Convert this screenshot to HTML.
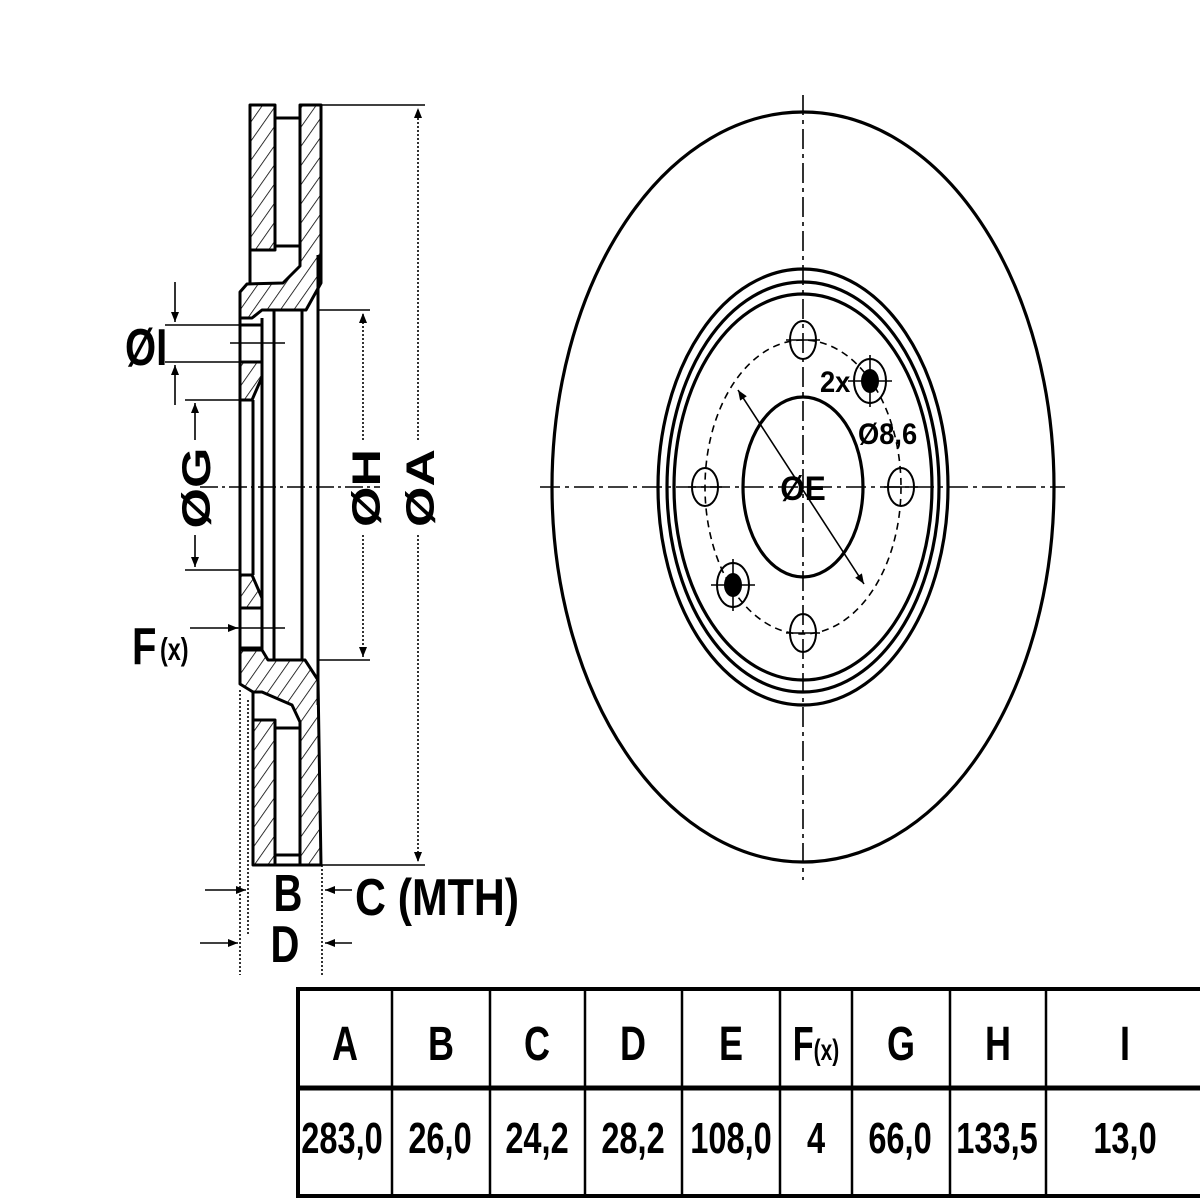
<!DOCTYPE html>
<html><head><meta charset="utf-8"><style>
html,body{margin:0;padding:0;background:#fff}
svg{display:block}
text{font-family:"Liberation Sans",Arial,sans-serif;font-weight:bold;fill:#000}
</style></head><body>
<svg width="1200" height="1200" viewBox="0 0 1200 1200" xmlns="http://www.w3.org/2000/svg">
<defs>
<pattern id="h" patternUnits="userSpaceOnUse" width="11" height="11" patternTransform="rotate(35)">
<line x1="0" y1="0" x2="0" y2="11" stroke="#000" stroke-width="1.6"/>
</pattern>
<marker id="ar2" viewBox="0 0 10 10" refX="10" refY="5" markerWidth="16" markerHeight="10" orient="auto-start-reverse" markerUnits="userSpaceOnUse">
<path d="M0,1 L10,5 L0,9 z" fill="#000"/>
</marker>
</defs>

<g stroke="#000" stroke-width="3" fill="none" stroke-linejoin="round">
<rect x="250" y="105" width="25" height="145" fill="url(#h)"/>
<polygon points="300,105 321,105 321,283 306,310 262,310 252,318 240,318 240,292 247,284 283,283 300,266" fill="url(#h)"/>
<line x1="275" y1="118" x2="300" y2="118"/>
<line x1="275" y1="246" x2="300" y2="246"/>
<line x1="250" y1="250" x2="250" y2="284"/>
<polygon points="240,362 262,362 262,377 252,400 240,400" fill="url(#h)"/>
<polygon points="240,575 252,575 262,598 262,608 240,608" fill="url(#h)"/>
<line x1="240" y1="318" x2="240" y2="680"/>
<line x1="240" y1="325" x2="262" y2="325"/>
<line x1="240" y1="362" x2="262" y2="362"/>
<line x1="240" y1="608" x2="262" y2="608"/>
<line x1="240" y1="648" x2="262" y2="648"/>
<line x1="253" y1="400" x2="253" y2="575"/>
<line x1="262" y1="318" x2="262" y2="650"/>
<line x1="274" y1="310" x2="274" y2="660"/>
<line x1="302" y1="310" x2="302" y2="660"/>
<line x1="318" y1="255" x2="318" y2="705"/>
<polygon points="240,650 262,650 268,660 305,660 318,680 321,865 300,865 300,722 292,705 262,692 253,692 240,684" fill="url(#h)"/>
<rect x="253" y="720" width="22" height="145" fill="url(#h)"/>
<line x1="253" y1="692" x2="253" y2="720"/>
<line x1="275" y1="728" x2="300" y2="728"/>
<line x1="275" y1="855" x2="300" y2="855"/>
<line x1="253" y1="865" x2="321" y2="865"/>
</g>

<g stroke="#000" stroke-width="1.6" fill="none">
<line x1="322" y1="105" x2="425" y2="105"/>
<line x1="322" y1="865" x2="425" y2="865"/>
<line x1="418" y1="440" x2="418" y2="108" stroke-dasharray="2,2" marker-end="url(#ar2)"/>
<line x1="418" y1="535" x2="418" y2="862" stroke-dasharray="2,2" marker-end="url(#ar2)"/>
<line x1="318" y1="310" x2="370" y2="310"/>
<line x1="318" y1="660" x2="370" y2="660"/>
<line x1="363" y1="440" x2="363" y2="313" stroke-dasharray="2,2" marker-end="url(#ar2)"/>
<line x1="363" y1="535" x2="363" y2="657" stroke-dasharray="2,2" marker-end="url(#ar2)"/>
<line x1="185" y1="400" x2="240" y2="400"/>
<line x1="185" y1="570" x2="240" y2="570"/>
<line x1="195" y1="440" x2="195" y2="403" marker-end="url(#ar2)"/>
<line x1="195" y1="535" x2="195" y2="567" marker-end="url(#ar2)"/>
<line x1="165" y1="325" x2="240" y2="325"/>
<line x1="165" y1="362" x2="240" y2="362"/>
<line x1="175" y1="282" x2="175" y2="322" marker-end="url(#ar2)"/>
<line x1="175" y1="405" x2="175" y2="365" marker-end="url(#ar2)"/>
<line x1="230" y1="343" x2="285" y2="343"/>
<line x1="230" y1="628" x2="285" y2="628"/>
<line x1="190" y1="628" x2="238" y2="628" marker-end="url(#ar2)"/>
<line x1="200" y1="487" x2="380" y2="487" stroke-dasharray="18,4,3,4"/>
<line x1="240" y1="690" x2="240" y2="975" stroke-dasharray="2,2"/>
<line x1="248" y1="700" x2="248" y2="935" stroke-dasharray="2,2"/>
<line x1="322" y1="865" x2="322" y2="975" stroke-dasharray="2,2"/>
<line x1="205" y1="890" x2="246" y2="890" marker-end="url(#ar2)"/>
<line x1="352" y1="890" x2="325" y2="890" marker-end="url(#ar2)"/>
<line x1="200" y1="943" x2="238" y2="943" marker-end="url(#ar2)"/>
<line x1="352" y1="943" x2="325" y2="943" marker-end="url(#ar2)"/>
</g>
<g font-size="40">
<text transform="translate(125,365) scale(1,1.3)">ØI</text>
<text transform="translate(210,488) rotate(-90) scale(1.3,1)" text-anchor="middle">ØG</text>
<text transform="translate(380,488) rotate(-90) scale(1.3,1)" text-anchor="middle">ØH</text>
<text transform="translate(434,488) rotate(-90) scale(1.3,1)" text-anchor="middle">ØA</text>
<text transform="translate(132,664) scale(1,1.3)">F</text>
<text transform="translate(160,660) scale(0.9,1.2)" font-size="26">(x)</text>
<text transform="translate(288,911) scale(1,1.3)" text-anchor="middle">B</text>
<text transform="translate(285,962) scale(1,1.3)" text-anchor="middle">D</text>
<text transform="translate(355,915) scale(1.07,1.3)">C (MTH)</text>
</g>

<g stroke="#000" stroke-width="3.2" fill="none">
<ellipse cx="803" cy="487" rx="251" ry="375"/>
<ellipse cx="803" cy="487" rx="145" ry="218"/>
<ellipse cx="803" cy="487" rx="136" ry="205"/>
<ellipse cx="803" cy="487" rx="129" ry="193"/>
<ellipse cx="803" cy="487" rx="60" ry="90"/>
<ellipse cx="803" cy="487" rx="98" ry="147" stroke-width="1.6" stroke-dasharray="7,5"/>
<ellipse cx="803" cy="340" rx="13" ry="19" stroke-width="2"/>
<ellipse cx="803" cy="633" rx="13" ry="19" stroke-width="2"/>
<ellipse cx="705" cy="487" rx="13" ry="19" stroke-width="2"/>
<ellipse cx="901" cy="487" rx="13" ry="19" stroke-width="2"/>
<ellipse cx="870" cy="381" rx="16" ry="22" stroke-width="2"/>
<ellipse cx="733" cy="585" rx="16" ry="22" stroke-width="2"/>
</g>
<g stroke="#000" stroke-width="1.6">
<line x1="540" y1="487" x2="1065" y2="487" stroke-dasharray="20,5,4,5"/>
<line x1="803" y1="95" x2="803" y2="880" stroke-dasharray="20,5,4,5"/>
<line x1="786" y1="340" x2="820" y2="340"/><line x1="688" y1="487" x2="722" y2="487"/>
<line x1="884" y1="487" x2="918" y2="487"/><line x1="786" y1="633" x2="820" y2="633"/>
<line x1="848" y1="381" x2="892" y2="381"/><line x1="870" y1="355" x2="870" y2="407"/>
<line x1="711" y1="585" x2="755" y2="585"/><line x1="733" y1="559" x2="733" y2="611"/>
<line x1="738" y1="390" x2="864" y2="584" marker-start="url(#ar2)" marker-end="url(#ar2)"/>
</g>
<ellipse cx="870" cy="381" rx="9" ry="12" fill="#000"/>
<ellipse cx="733" cy="585" rx="9" ry="12" fill="#000"/>
<g font-size="26">
<text transform="translate(820,392) scale(1.05,1.15)">2x</text>
<text transform="translate(858,444) scale(1.05,1.15)">Ø8,6</text>
<text transform="translate(803,500) scale(1.05,1.15)" font-size="30" text-anchor="middle">ØE</text>
</g>

<g stroke="#000" fill="none">
<rect x="298" y="989" width="910" height="207" stroke-width="4"/>
<line x1="298" y1="1088" x2="1200" y2="1088" stroke-width="5"/>
<g stroke-width="2.5">
<line x1="392" y1="989" x2="392" y2="1196"/><line x1="490" y1="989" x2="490" y2="1196"/>
<line x1="585" y1="989" x2="585" y2="1196"/><line x1="682" y1="989" x2="682" y2="1196"/>
<line x1="780" y1="989" x2="780" y2="1196"/><line x1="852" y1="989" x2="852" y2="1196"/>
<line x1="950" y1="989" x2="950" y2="1196"/><line x1="1046" y1="989" x2="1046" y2="1196"/>
</g>
</g>
<g font-size="36" text-anchor="middle">
<text transform="translate(345,1060) scale(1,1.35)">A</text>
<text transform="translate(441,1060) scale(1,1.35)">B</text>
<text transform="translate(537,1060) scale(1,1.35)">C</text>
<text transform="translate(633,1060) scale(1,1.35)">D</text>
<text transform="translate(731,1060) scale(1,1.35)">E</text>
<text transform="translate(816,1060) scale(0.95,1.35)"><tspan>F</tspan><tspan font-size="22">(x)</tspan></text>
<text transform="translate(901,1060) scale(1,1.35)">G</text>
<text transform="translate(998,1060) scale(1,1.35)">H</text>
<text transform="translate(1125,1060) scale(1,1.35)">I</text>
</g>
<g font-size="31" text-anchor="middle">
<text transform="translate(342,1153) scale(1.05,1.4)">283,0</text>
<text transform="translate(440,1153) scale(1.05,1.4)">26,0</text>
<text transform="translate(537,1153) scale(1.05,1.4)">24,2</text>
<text transform="translate(633,1153) scale(1.05,1.4)">28,2</text>
<text transform="translate(731,1153) scale(1.05,1.4)">108,0</text>
<text transform="translate(816,1153) scale(1.05,1.4)">4</text>
<text transform="translate(900,1153) scale(1.05,1.4)">66,0</text>
<text transform="translate(997,1153) scale(1.05,1.4)">133,5</text>
<text transform="translate(1125,1153) scale(1.05,1.4)">13,0</text>
</g>
</svg>
</body></html>
